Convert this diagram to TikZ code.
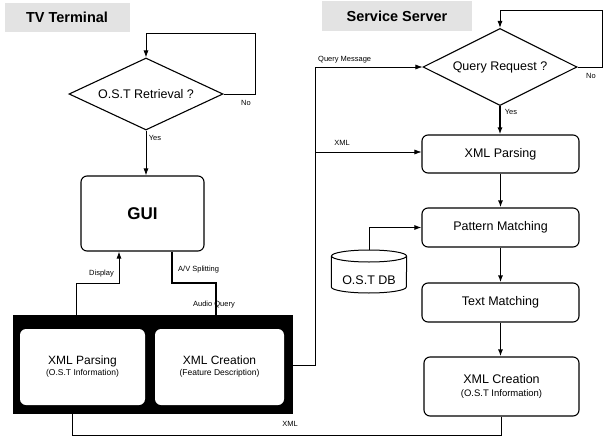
\documentclass[tikz,border=0pt]{standalone}
\usepackage{fontspec}
\setmainfont{Liberation Sans}
\usetikzlibrary{shapes.geometric,arrows.meta}
\begin{document}
\begin{tikzpicture}[x=1pt,y=-1pt,
  arr/.style={-{Latex[length=7pt,width=5pt]}},
  thinln/.style={line width=0.6pt},
  midln/.style={line width=0.9pt},
  boldln/.style={line width=1.4pt},
  box/.style={draw,rounded corners=6pt,line width=1.1pt,align=center,inner sep=0pt},
  wbox/.style={fill=white,rounded corners=6pt,align=center,inner sep=0pt},
  dec/.style={draw,diamond,line width=1.1pt,inner sep=0pt,aspect=2},
  lbl/.style={font=\fontsize{7.5}{9}\selectfont,inner sep=1pt},
  ttl/.style={fill=gray!22,font=\fontsize{14.5}{16}\selectfont\bfseries,inner sep=0pt},
  mainf/.style={font=\fontsize{12.5}{15}\selectfont},
  subf/.style={font=\fontsize{9}{11}\selectfont}
]
\useasboundingbox (0,0) rectangle (603,439);

% titles
\node (tvt) [ttl,minimum width=125pt,minimum height=29pt] at (67,17.5) {TV Terminal};
\node (sst) [ttl,minimum width=150pt,minimum height=30pt] at (397,16) {Service Server};

% TV terminal
\node (d1) [dec,mainf,minimum width=154pt,minimum height=72pt] at (146,94) {O.S.T Retrieval ?};
\node (gui) [box,minimum width=123pt,minimum height=75pt,font=\fontsize{17}{20}\selectfont\bfseries] at (142.5,213.5) {GUI};
\node (frame) [fill=black,minimum width=280pt,minimum height=99pt,inner sep=0pt] at (153,364.5) {};
\node (xp1) [wbox,minimum width=125pt,minimum height=76pt] at (82.5,367)
  {{\fontsize{12}{14}\selectfont XML Parsing}\\[-1pt]{\fontsize{8.5}{10}\selectfont (O.S.T Information)}};
\node (xc1) [wbox,minimum width=129pt,minimum height=76pt] at (219.5,367)
  {{\fontsize{12}{14}\selectfont XML Creation}\\[-1pt]{\fontsize{8.5}{10}\selectfont (Feature Description)}};

% Service server
\node (d2) [dec,mainf,minimum width=154pt,minimum height=77pt] at (500,67) {Query Request ?};
\node (xp2) [box,mainf,minimum width=157pt,minimum height=38pt] at (500.5,154) {XML Parsing};
\node (pm) [box,mainf,minimum width=157pt,minimum height=39pt] at (500.5,227.5) {Pattern Matching};
\node (tm) [box,mainf,minimum width=157pt,minimum height=39pt] at (500.5,302.5) {Text Matching};
\node (xc2) [box,minimum width=155pt,minimum height=59pt] at (501.5,386.5)
  {{\fontsize{12.5}{15}\selectfont XML Creation}\\[1pt]{\fontsize{9.5}{11}\selectfont (O.S.T Information)}};

% database cylinder (drawn by hand)
\node (db) [minimum width=75pt,minimum height=43pt,inner sep=0pt] at (369,271.5) {};
\draw[line width=1pt] (369,256) ellipse [x radius=37.5pt,y radius=6pt];
\draw[line width=1pt] (db.west |- 0,256) -- (db.west |- 0,287)
  arc[start angle=180,end angle=360,x radius=37.5pt,y radius=6pt] -- (db.east |- 0,256);
\node (dbt) [mainf,inner sep=0pt] at (369,280) {O.S.T DB};

% coordinates
\coordinate (l1) at (255,33);
\coordinate (dspA) at (76,283);
\coordinate (dspB) at (119,283);
\coordinate (avA) at (172,283);
\coordinate (avB) at (216,283);
\coordinate (qm) at (315,365);
\coordinate (xb) at (315,152);
\coordinate (l2) at (602,10);
\coordinate (bx) at (72,435);

% TV terminal connectors
\draw[midln,arr] (d1.east) -| (l1) -| (d1.north);
\draw[midln,arr] (d1.south) -- (d1.south |- gui.north);
\draw[midln,arr] (dspA |- frame.north) -- (dspA) -- (dspB) -- (dspB |- gui.south);
\draw[line width=2.4pt] (avA |- gui.south) -- (avA) -- (avB) -- (avB |- frame.north);

% cross connectors
\draw[thinln,arr] (frame.east |- qm) -- (qm) |- (d2.west);
\draw[thinln,arr] (xb) -- (xb -| xp2.west);
\draw[thinln] (xc2.south) |- (bx) -- (bx |- frame.south);

% server connectors
\draw[midln,arr] (d2.east) -| (l2) -| (d2.north);
\draw[boldln,arr] (d2.south) -- (d2.south |- xp2.north);
\draw[boldln,arr] (xp2.south) -- (pm.north);
\draw[boldln,arr] (pm.south) -- (tm.north);
\draw[boldln,arr] (tm.south) -- (tm.south |- xc2.north);
\draw[midln,arr] (db.north) |- (pm.west);

% labels
\node (no1) [lbl] at (246,103) {No};
\node (yes1) [lbl] at (155,138) {Yes};
\node (dspl) [lbl,anchor=east] at (115,274) {Display};
\node (avl) [lbl,anchor=west] at (177,270) {A/V Splitting};
\node (aql) [lbl] at (214,305) {Audio Query};
\node (qml) [lbl,anchor=west] at (317,60) {Query Message};
\node (xmll) [lbl] at (342,143) {XML};
\node (no2) [lbl] at (591,76) {No};
\node (yes2) [lbl] at (511,112) {Yes};
\node (xmlb) [lbl] at (290,424) {XML};
\end{tikzpicture}
\end{document}
